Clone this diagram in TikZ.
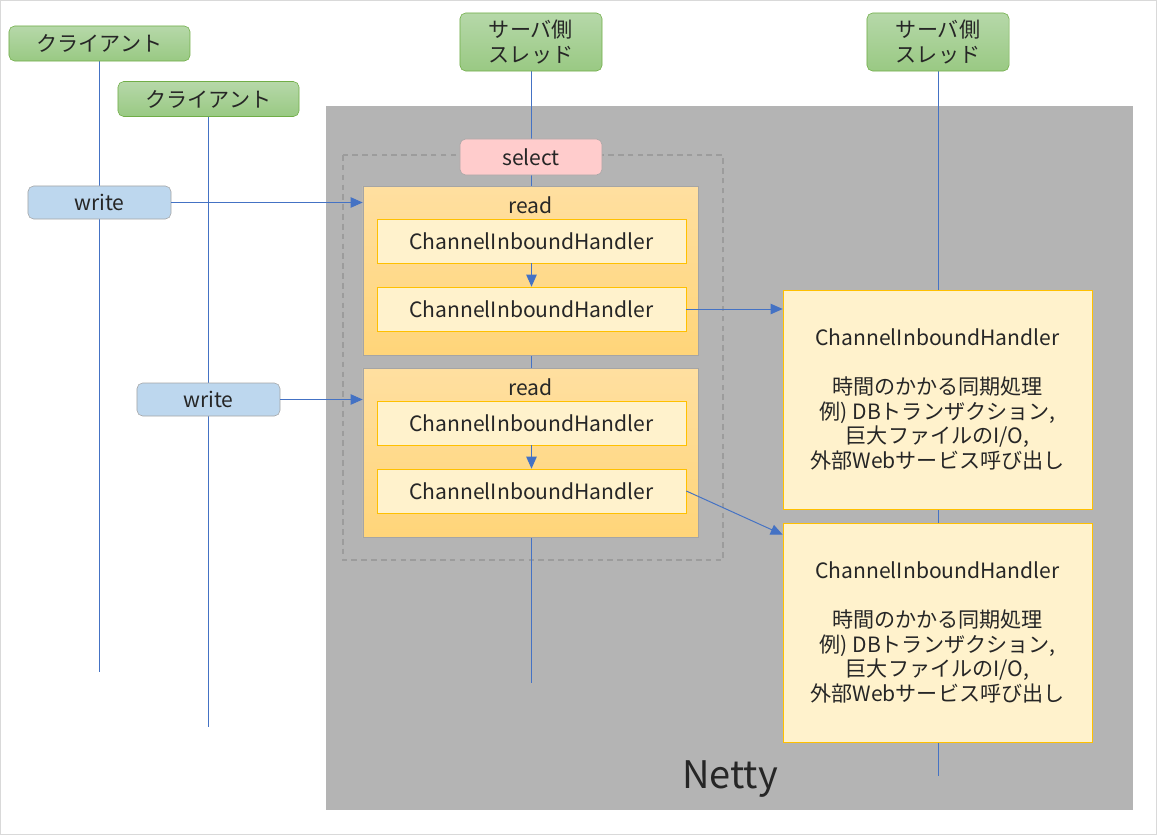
\documentclass[tikz,border=0pt]{standalone}
\usepackage{fontspec}
\setmainfont{Noto Sans CJK JP}
\usepackage{tikz}
\usetikzlibrary{positioning}
\usetikzlibrary{arrows.meta}
\usetikzlibrary{calc}
\definecolor{lineblue}{HTML}{4472C4}
\definecolor{gborder}{HTML}{70AD47}
\definecolor{gtop}{HTML}{B6D8A9}
\definecolor{gbot}{HTML}{99C983}
\definecolor{wfill}{HTML}{BDD7EE}
\definecolor{boxgray}{HTML}{A5A5A5}
\definecolor{selfill}{HTML}{FFCCCC}
\definecolor{rtop}{HTML}{FFDFA0}
\definecolor{rbot}{HTML}{FFD579}
\definecolor{hfill}{HTML}{FFF2CC}
\definecolor{hborder}{HTML}{FFC000}
\definecolor{nettybg}{HTML}{B4B4B4}
\definecolor{dashgray}{HTML}{9C9C9C}
\definecolor{txt}{HTML}{262626}
\definecolor{framegray}{HTML}{D9D9D9}
\pgfdeclarelayer{back}
\pgfdeclarelayer{wires}
\pgfsetlayers{back,wires,main}
\tikzset{
  base node/.style={inner sep=0pt,text=txt,font=\fontsize{15}{17.5}\selectfont,align=center},
  client node/.style={base node,rounded corners=4pt,draw=gborder,top color=gtop,bottom color=gbot,minimum width=4.525cm,minimum height=0.875cm},
  thread node/.style={base node,rounded corners=4pt,draw=gborder,top color=gtop,bottom color=gbot,minimum width=3.55cm,minimum height=1.45cm},
  write node/.style={base node,rounded corners=4pt,draw=boxgray,fill=wfill,minimum width=3.575cm,minimum height=0.825cm},
  select node/.style={base node,rounded corners=4pt,draw=boxgray,fill=selfill,minimum width=3.55cm,minimum height=0.9cm},
  read node/.style={base node,draw=boxgray,top color=rtop,bottom color=rbot,minimum width=8.375cm,minimum height=4.22cm},
  handler node/.style={base node,draw=hborder,fill=hfill,minimum width=7.725cm,minimum height=1.1cm},
  task node/.style={base node,draw=hborder,fill=hfill,minimum width=7.725cm,minimum height=5.475cm},
  lifeline/.style={draw=lineblue,line width=0.7pt},
  call/.style={draw=lineblue,line width=0.7pt,-{Triangle[length=3mm,width=2.6mm]}},
}

\begin{document}
\begin{tikzpicture}[x=0.025cm,y=-0.025cm]
    \useasboundingbox (0,0) rectangle (1157,835);
    \draw[framegray] (0.5,0.5) rectangle (1156.5,834.5);

    % clients and server threads
    \node[client node] (c1) at (99.5,43.5) {クライアント};
    \node[client node] (c2) at (208.5,99) {クライアント};
    \node[thread node] (s1) at (531,42) {サーバ側\\スレッド};
    \node[thread node] (s2) at (938,42) {サーバ側\\スレッド};

    \coordinate (c1end) at (99.5,672);
    \coordinate (c2end) at (208.5,727);
    \coordinate (s1end) at (531,683);
    \coordinate (s2end) at (938,776);

    % event loop
    \node[select node] (sel) at (531,157) {select};
    \node[read node] (r1) at (530.5,271) {};
    \node[base node, below=0.25cm of r1.north] (r1l) {read};
    \node[handler node] (h1a) at (531.5,241) {ChannelInboundHandler};
    \node[handler node] (h1b) at (531.5,309) {ChannelInboundHandler};
    \node[read node] (r2) at (530.5,453) {};
    \node[base node, below=0.25cm of r2.north] (r2l) {read};
    \node[handler node] (h2a) at (531.5,423) {ChannelInboundHandler};
    \node[handler node] (h2b) at (531.5,491) {ChannelInboundHandler};

    % blocking work
    \node[task node] (t1) at (937.5,399.5) {ChannelInboundHandler\\[17.5pt]時間のかかる同期処理\\例) DBトランザクション,\\巨大ファイルのI/O,\\外部Webサービス呼び出し};
    \node[task node] (t2) at (937.5,632.5) {ChannelInboundHandler\\[17.5pt]時間のかかる同期処理\\例) DBトランザクション,\\巨大ファイルのI/O,\\外部Webサービス呼び出し};

    % client requests
    \node[write node] (w1) at (99.5,202.5) {write};
    \node[write node] (w2) at (208.5,399.5) {write};

    \begin{pgfonlayer}{back}
        \node[fill=nettybg, minimum width=20.175cm, minimum height=17.6cm, inner sep=0pt] (netty) at (729.5,458) {};
        \node[text=txt, font=\fontsize{27}{32}\selectfont, inner sep=0pt] (nettyl) at (730,779) {Netty};
        \draw[dashgray, line width=1pt, dash pattern=on 4pt off 3pt] (343,155) rectangle (723,560);
    \end{pgfonlayer}

    \begin{pgfonlayer}{wires}
        \draw[lifeline] (c1) -- (c1end);
        \draw[lifeline] (c2) -- (c2end);
        \draw[lifeline] (s1) -- (s1end);
        \draw[lifeline] (s2) -- (s2end);
    \end{pgfonlayer}

    \draw[call] (w1.east) -- (w1.east -| r1.west);
    \draw[call] (w2.east) -- (w2.east -| r2.west);
    \draw[call] (h1a) -- (h1b);
    \draw[call] (h2a) -- (h2b);
    \draw[call] (h1b.east) -- (h1b.east -| t1.west);
    \draw[call] (h2b.east) -- ($(t2.north west)+(0,12)$);
\end{tikzpicture}
\end{document}
